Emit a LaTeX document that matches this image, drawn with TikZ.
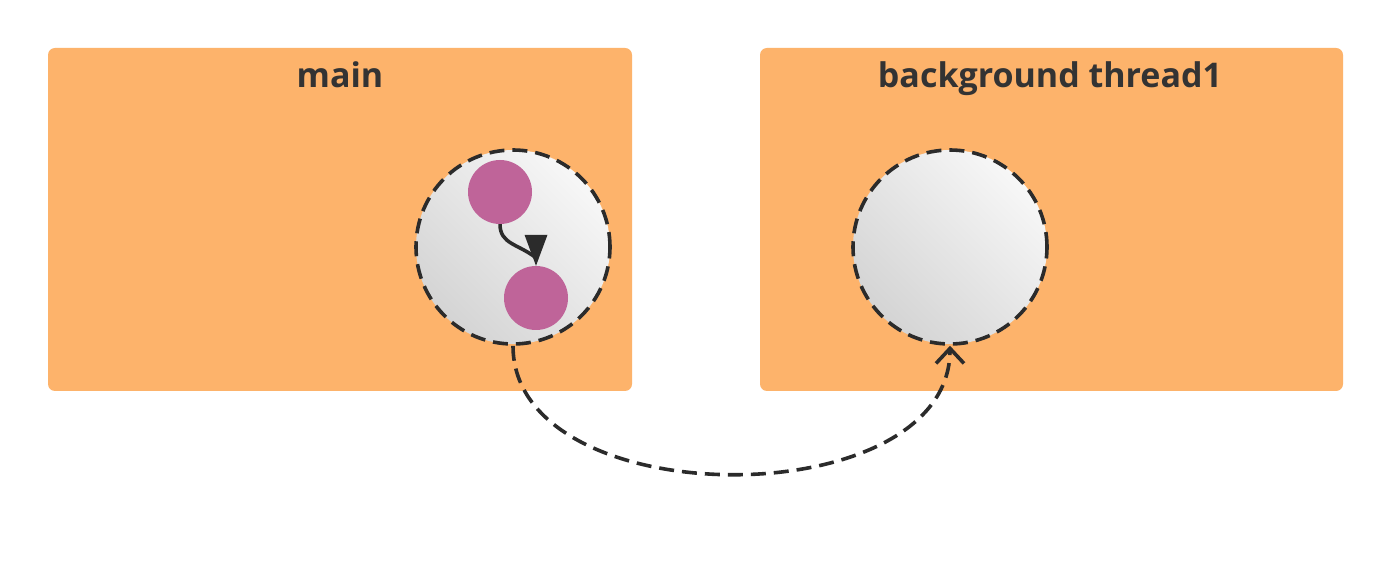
\documentclass[tikz,border=0pt]{standalone}
\usepackage{fontspec}
\setmainfont{Open Sans}
\usetikzlibrary{arrows.meta}
\definecolor{boxorange}{HTML}{FDB36B}
\definecolor{txtdark}{HTML}{333333}
\definecolor{linedark}{HTML}{2B2B2B}
\definecolor{pinkdot}{HTML}{BF6499}
\definecolor{gdark}{HTML}{D4D4D4}
\definecolor{glight}{HTML}{F7F7F7}
\tikzset{
  threadbox/.style={fill=boxorange, draw=none, rounded corners=7pt},
  titletext/.style={text=txtdark, font=\fontsize{34}{40}\selectfont\bfseries, inner sep=0pt, anchor=base},
  scopecircle/.style={circle, minimum size=194pt, inner sep=0pt, left color=gdark, right color=glight, shading angle=135, draw=linedark, line width=3.6pt, dash pattern=on 15pt off 8pt},
  taskdot/.style={circle, fill=pinkdot, minimum size=64pt, inner sep=0pt, draw=none},
  innerline/.style={draw=linedark, line width=3.6pt},
  innerhead/.style={fill=linedark},
  dashconn/.style={draw=linedark, line width=3.6pt, dash pattern=on 15pt off 8pt, -{Straight Barb[length=15pt, width=28pt, line width=3.6pt]}}
}
\begin{document}
\begin{tikzpicture}[x=1pt, y=1pt]
\useasboundingbox (0,0) rectangle (1392,568);
\fill[white] (0,0) rectangle (1392,568);
\path[threadbox] (48,177) rectangle (632,520);
\path[threadbox] (760,177) rectangle (1343,520);
\node[titletext] (tmain) at (340,480) {main};
\node[titletext] (tbg) at (1050,480) {background thread1};
\node[scopecircle] (c1) at (513,321) {};
\node[scopecircle] (c2) at (950,321) {};
\node[taskdot] (p1) at (500,376) {};
\node[taskdot] (p2) at (536,270) {};
\draw[innerline] (p1.south) .. controls +(0,-20) and +(-18,14) .. ([yshift=8pt]p2.north);
\path[innerhead] (p2.north) -- ++(-11.5,31) -- ++(23,0) -- cycle;
\draw[dashconn] (c1.south) .. controls (513,51) and (950,51) .. (c2.south);
\end{tikzpicture}
\end{document}
